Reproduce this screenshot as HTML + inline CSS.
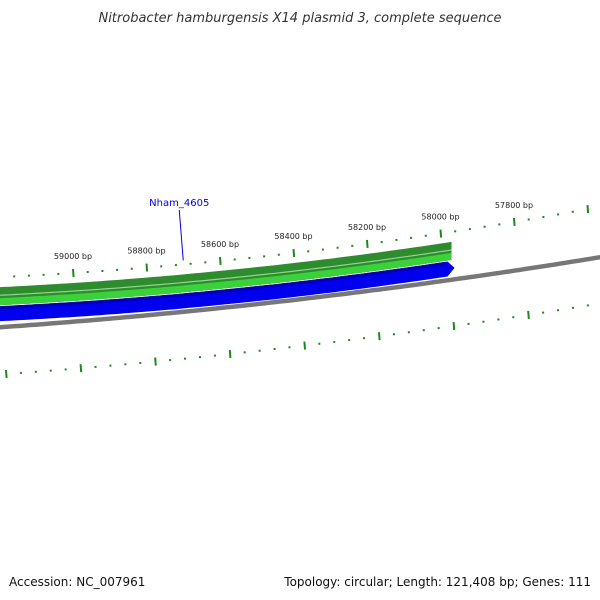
<!DOCTYPE html>
<html><head><meta charset="utf-8"><style>
html,body{margin:0;padding:0;background:#fff}
svg{display:block;font-family:"DejaVu Sans","Liberation Sans",sans-serif}
</style></head><body>
<svg id="map" width="600" height="600" viewBox="0 0 600 600" xmlns="http://www.w3.org/2000/svg">
<rect width="600" height="600" fill="#fff"/>
<text x="300" y="22" text-anchor="middle" font-size="13" font-style="italic" fill="#333">Nitrobacter hamburgensis X14 plasmid 3, complete sequence</text>
<g id="layers"></g>
<text x="9" y="586" font-size="12" fill="#111">Accession: NC_007961</text>
<text x="591" y="586" text-anchor="end" font-size="12" fill="#111">Topology: circular; Length: 121,408 bp; Genes: 111</text>
</svg>
<script>
const tickLabels = [59000, 58800, 58600, 58400, 58200, 58000, 57800];
const majorBp = [59200, 59000, 58800, 58600, 58400, 58200, 58000, 57800, 57600];
const geneNames = ["Nham_4605"];
const geneStartBp = [59700];
const geneEndBp = [57970];
const geneLabelBp = [58700];

const NS = "http://www.w3.org/2000/svg";
const g = document.getElementById('layers');
function mk(t, a){const e=document.createElementNS(NS,t);for(const k in a)e.setAttribute(k,a[k]);g.appendChild(e);return e;}
function xU(bp){return 73 + (59000-bp)*73.5/200;}
function yU(x){return 277.15 - 0.0485*x - 0.0001145*x*x;}
function xL(bp){return 6 + (59200-bp)*74.6/200;}
function yL(x){return 374.4 - 0.0705*x - 0.0000797*x*x;}
function yG(x){return 327 - 0.07*x - 0.0000778*x*x;}
function edges(x0,x1,o0,o1,yf){
  let top=[],bot=[];
  for(let x=x0;x<x1;x+=5){top.push(x+','+(yf(x)+o0).toFixed(1));bot.unshift(x+','+(yf(x)+o1).toFixed(1));}
  top.push(x1+','+(yf(x1)+o0).toFixed(1));bot.unshift(x1+','+(yf(x1)+o1).toFixed(1));
  return [top,bot];
}
function band(x0,x1,o0,o1,yf){const [t,b]=edges(x0,x1,o0,o1,yf);return t.concat(b).join(' ');}
let bb = mk('polygon',{points:band(-5,605,-2,2.5,yG),fill:'#777'});


geneNames.forEach((n,i)=>{
  const xs=-5, xe=xU(geneEndBp[i]);
  let p=mk('polygon',{points:band(xs,xe,10,28,yU),fill:'#2e8b2e'});
  
  
  let p2=mk('polygon',{points:band(xs,xe,21,28,yU),fill:'#3ad13a'});
  
  
  let l=mk('polygon',{points:band(xs,xe,17.5,18.7,yU),fill:'#8fd68f'});
  
  
  const [bt,bb2]=edges(xs,xe-4,29,44,yU);
  const tip=(xe+3)+','+(yU(xe)+36).toFixed(1);
  let b=mk('polygon',{points:bt.concat([tip],bb2).join(' '),fill:'#0000ee'});
  
  
  let b2=mk('polygon',{points:band(xs,xe-6,29,32,yU),fill:'#0000b0'});
  
  
  const lx=xU(geneLabelBp[i]);
  let ln=mk('line',{x1:lx-4,y1:210,x2:lx,y2:yU(lx)-4,stroke:'#0000ee','stroke-width':1});
  
  
  let t=mk('text',{x:lx-4,y:206,'text-anchor':'middle','font-size':10,fill:'#0000ee'});
  t.textContent=n;
  
  
});
majorBp.forEach((bp,k)=>{
  for(let m=0;m<5;m++){
    const b=bp-m*40;
    [[xU(b),yU],[xL(b),yL]].forEach(([x,yf],r)=>{
      if(x<2||x>598)return;
      const y=yf(x);
      let tk=mk('line',{x1:x,y1:m?y-1:y-4,x2:x+(m?0:0.6),y2:m?y+1:y+4,stroke:'#1a8a1a','stroke-width':2});
      
      
    });
  }
});
tickLabels.forEach(bp=>{
  const x=xU(bp);
  let t=mk('text',{x:x,y:yU(x)-14,'text-anchor':'middle','font-size':8,fill:'#222'});
  t.textContent=bp+' bp';
  
  
});
</script>
</body></html>
